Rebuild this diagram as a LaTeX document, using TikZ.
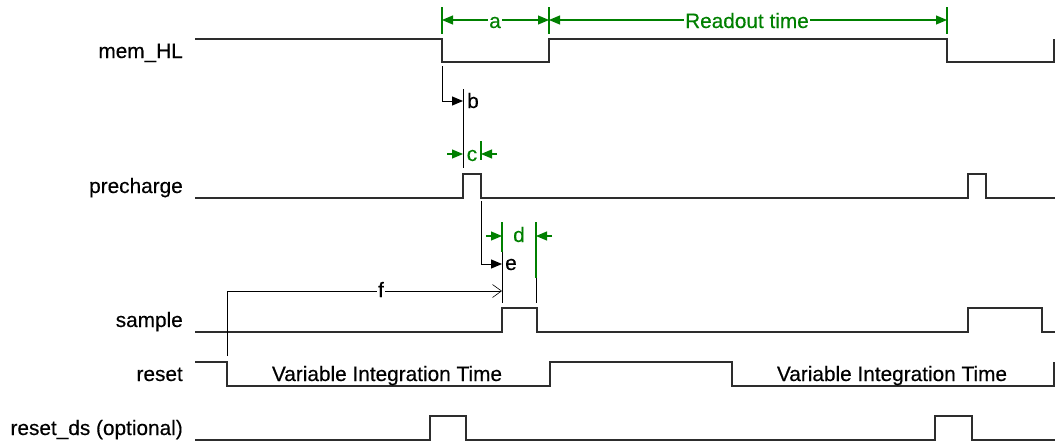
\documentclass[tikz,border=0pt]{standalone}
\usepackage{fontspec}
\setmainfont[FakeBold=0.3]{Liberation Sans}
\usetikzlibrary{arrows.meta}
\definecolor{dimgreen}{RGB}{0,128,0}
\definecolor{wavec}{RGB}{45,45,45}
\begin{document}
\begin{tikzpicture}[x=1pt,y=-1pt,
  font=\fontsize{20.8}{24}\selectfont,
  wave/.style={draw=wavec,line width=1.1pt,line join=miter},
  sig/.style={draw=black,line width=1pt},
  dim/.style={draw=dimgreen,line width=1.1pt},
  ftip/.style={-{Triangle[length=11pt,width=9pt]}},
  dtip/.style={{Triangle[length=11pt,width=9pt]}-{Triangle[length=11pt,width=9pt]}},
  otip/.style={-{Straight Barb[length=9pt,width=13pt,line width=0.6pt]}},
  siglabel/.style={anchor=base east,inner sep=0pt,text=black},
  dimtext/.style={anchor=base,inner sep=1.5pt,text=dimgreen},
  ann/.style={anchor=base,inner sep=1.5pt,text=black}]
\useasboundingbox[fill=white] (0,0) rectangle (1055,442);

% signal labels
\node[siglabel] (lmem) at (183,58) {mem\_HL};
\node[siglabel] (lpre) at (183,193) {precharge};
\node[siglabel] (lsam) at (183,327) {sample};
\node[siglabel] (lres) at (183,381) {reset};
\node[siglabel] (lrds) at (183,435) {reset\_ds (optional)};

% waveforms
\draw[wave] (195,39) -- (442,39) -- (442,62) -- (549,62) -- (549,39) -- (947,39) -- (947,62) -- (1054,62) -- (1054,39);
\draw[wave] (195,198) -- (463,198) -- (463,174) -- (481,174) -- (481,198) -- (968,198) -- (968,174) -- (986,174) -- (986,198) -- (1055,198);
\draw[wave] (195,332) -- (502,332) -- (502,308) -- (537,308) -- (537,332) -- (968,332) -- (968,308) -- (1042,308) -- (1042,332) -- (1055,332);
\draw[wave] (195,362) -- (227,362) -- (227,386) -- (550,386) -- (550,362) -- (732,362) -- (732,386) -- (1054,386) -- (1054,362);
\draw[wave] (195,440) -- (430,440) -- (430,416) -- (466,416) -- (466,440) -- (935,440) -- (935,416) -- (972,416) -- (972,440) -- (1055,440);

\node[ann] (vit1) at (387,381) {Variable Integration Time};
\node[ann] (vit2) at (892,381) {Variable Integration Time};

% dimension a and readout time
\coordinate (a1) at (442,20);
\coordinate (a2) at (549,20);
\coordinate (a3) at (947,20);
\draw[dim] (442,7) -- (442,34);
\draw[dim] (549,7) -- (549,34);
\draw[dim] (947,7) -- (947,34);
\draw[dim,dtip] (a1) -- (a2);
\draw[dim,dtip] (a2) -- (a3);
\node[dimtext,fill=white] (ta) at (495,28) {a};
\node[dimtext,fill=white] (tro) at (747,28) {Readout time};

% b
\coordinate (b0) at (442,66);
\coordinate (b1) at (463,101);
\draw[sig,ftip] (b0) |- (b1);
\draw[sig] (463,89) -- (463,168);
\node[ann,anchor=base west,inner sep=0pt] (tb) at (467,108) {b};

% c
\draw[dim] (481,141) -- (481,160);
\draw[dim,ftip] (447,154) -- (463,154);
\draw[dim,ftip] (497,154) -- (481,154);
\node[dimtext] (tc) at (472,161) {c};

% d
\draw[dim] (502,222) -- (502,252);
\draw[sig] (502,252) -- (502,303);
\draw[dim] (536,222) -- (536,278);
\draw[sig] (536,278) -- (536,303);
\draw[dim,ftip] (486,236) -- (502,236);
\draw[dim,ftip] (552,236) -- (536,236);
\node[dimtext] (td) at (519,242) {d};

% e
\coordinate (e0) at (481,201);
\coordinate (e1) at (502,264);
\draw[sig,ftip] (e0) |- (e1);
\node[ann,anchor=base west,inner sep=0pt] (te) at (505,270) {e};

% f
\coordinate (f0) at (227,356);
\coordinate (f1) at (502,291);
\draw[sig,otip] (f0) |- (f1);
\node[ann,fill=white] (tf) at (381,297) {f};
\end{tikzpicture}
\end{document}
